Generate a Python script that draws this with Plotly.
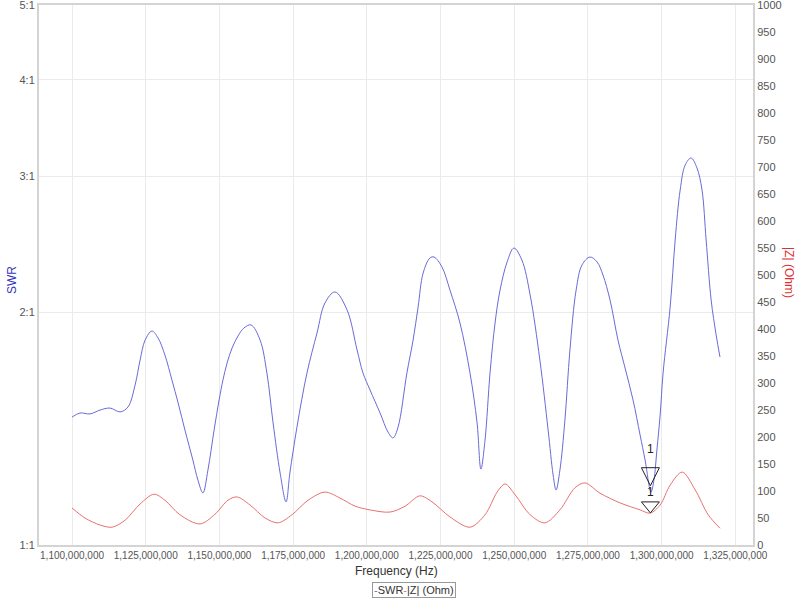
import numpy as np
import plotly.graph_objects as go

# ---------------- data ----------------
swr_freq_mhz = [1100.0, 1102.7, 1106.1, 1109.5, 1112.9, 1116.3, 1119.0, 1121.4, 1123.1, 1124.8,
                1127.1, 1129.2, 1131.5, 1133.9, 1136.0, 1138.3, 1141.0, 1142.7, 1144.4, 1146.1,
                1148.2, 1149.9, 1151.2, 1152.6, 1154.3, 1156.3, 1158.3, 1160.7, 1163.8, 1166.1,
                1168.2, 1170.6, 1172.6, 1173.9, 1176.3, 1179.7, 1183.1, 1185.8, 1189.2, 1193.3,
                1196.7, 1198.7, 1201.1, 1204.5, 1207.2, 1208.9, 1210.6, 1213.6, 1215.7, 1217.4,
                1219.1, 1221.4, 1222.8, 1225.5, 1228.2, 1231.6, 1235.0, 1237.4, 1238.7, 1240.1,
                1241.8, 1243.5, 1245.2, 1247.6, 1249.9, 1252.6, 1255.4, 1258.7, 1261.5, 1263.2,
                1264.2, 1265.5, 1267.2, 1268.9, 1271.0, 1273.0, 1275.7, 1278.1, 1280.1, 1282.5,
                1285.2, 1287.6, 1290.3, 1292.7, 1294.4, 1296.4, 1297.4, 1298.4, 1299.5, 1300.5,
                1302.9, 1304.6, 1306.3, 1308.0, 1310.0, 1312.0, 1313.7, 1315.1, 1316.8, 1318.5,
                1319.8]
swr_values = [1.464, 1.482, 1.478, 1.495, 1.504, 1.487, 1.509, 1.611, 1.736, 1.842,
              1.892, 1.853, 1.762, 1.635, 1.527, 1.409, 1.288, 1.214, 1.168, 1.250,
              1.409, 1.541, 1.635, 1.720, 1.799, 1.864, 1.909, 1.927, 1.842, 1.670,
              1.439, 1.239, 1.137, 1.239, 1.421, 1.670, 1.881, 2.057, 2.126, 2.015,
              1.788, 1.670, 1.587, 1.482, 1.400, 1.376, 1.421, 1.670, 1.842, 2.033,
              2.249, 2.352, 2.359, 2.290, 2.138, 1.938, 1.670, 1.439, 1.254, 1.367,
              1.670, 1.938, 2.138, 2.325, 2.423, 2.338, 2.107, 1.736, 1.409, 1.232,
              1.178, 1.250, 1.451, 1.788, 2.138, 2.304, 2.359, 2.325, 2.236, 2.076,
              1.842, 1.695, 1.541, 1.388, 1.288, 1.171, 1.214, 1.327, 1.473, 1.670,
              2.033, 2.482, 2.881, 3.104, 3.169, 3.076, 2.881, 2.482, 2.076, 1.870,
              1.751]

z_freq_mhz = [1100.0, 1104.4, 1109.5, 1113.6, 1118.0, 1123.1, 1127.8, 1131.5, 1136.6, 1143.4,
              1148.5, 1152.9, 1156.0, 1160.4, 1165.5, 1169.9, 1174.6, 1180.1, 1185.8, 1190.9,
              1196.0, 1201.1, 1207.9, 1213.0, 1218.0, 1222.1, 1228.2, 1235.0, 1240.1, 1244.2,
              1246.9, 1250.3, 1255.4, 1260.4, 1265.5, 1270.6, 1274.0, 1279.1, 1285.9, 1292.7,
              1296.1, 1299.5, 1302.9, 1307.0, 1311.4, 1315.8, 1319.8]
z_values = [68.5, 50, 37, 33, 46, 76, 94, 83, 56, 39,
            57, 83, 89, 74, 50, 41, 56, 83, 98, 87,
            72, 65, 61, 72, 91, 80, 52, 33, 56, 98,
            113, 93, 56, 41, 65, 106, 115, 96, 78, 65,
            59, 74, 111, 135, 102, 56, 31]

marker_freq_mhz = 1296.2
marker_label = "1"

x_tick_values = [1100e6 + 25e6 * i for i in range(10)]
swr_tick_values = [1, 2, 3, 4, 5]
swr_tick_text = ["1:1", "2:1", "3:1", "4:1", "5:1"]

# ---------------- figure ----------------
swr_freq = np.array(swr_freq_mhz) * 1e6
z_freq = np.array(z_freq_mhz) * 1e6
marker_freq = marker_freq_mhz * 1e6
marker_swr = float(np.interp(marker_freq, swr_freq, swr_values))
marker_z = float(np.interp(marker_freq, z_freq, z_values))

BLUE = "#6a6ad8"
RED = "#e87070"
FONT = "Liberation Sans, Arial, sans-serif"

fig = go.Figure()
fig.add_trace(go.Scatter(x=swr_freq, y=swr_values, mode="lines", name="SWR",
                         line=dict(color=BLUE, width=1, shape="spline", smoothing=1.0),
                         yaxis="y"))
fig.add_trace(go.Scatter(x=z_freq, y=z_values, mode="lines", name="|Z| (Ohm)",
                         line=dict(color=RED, width=1, shape="spline", smoothing=0.9),
                         yaxis="y2"))

grid = "#ebebeb"
border = "#d4d4d4"
fig.update_layout(
    width=800, height=600,
    margin=dict(l=39, r=47, t=5, b=55),
    paper_bgcolor="white", plot_bgcolor="white",
    showlegend=False,
    font=dict(family=FONT, size=11, color="#555555"),
    xaxis=dict(range=[1088.8e6, 1331.0e6], tickvals=x_tick_values, tickformat=",d",
               showgrid=True, gridcolor=grid, gridwidth=1, zeroline=False,
               showline=True, linecolor=border, linewidth=2, mirror=True,
               ticks="", automargin=False, ticklabeloverflow="allow",
               tickfont=dict(size=10, color="#555555")),
    yaxis=dict(type="log", range=[0, np.log10(5)], tickvals=swr_tick_values,
               ticktext=swr_tick_text, showgrid=True, gridcolor=grid, zeroline=False,
               showline=True, linecolor=border, linewidth=2, mirror=True, ticks="",
               automargin=False, ticklabeloverflow="allow",
               tickfont=dict(size=11, color="#555555")),
    yaxis2=dict(overlaying="y", side="right", range=[0, 1000], dtick=50,
                showgrid=False, zeroline=False, showline=True, linecolor=border,
                linewidth=2, ticks="", automargin=False, ticklabeloverflow="allow",
                tickfont=dict(size=11, color="#555555")),
)

# marker triangles (pixel-sized, anchored at the marker data points)
fig.add_shape(type="path", xref="x", yref="y", xsizemode="pixel", ysizemode="pixel",
              xanchor=marker_freq, yanchor=marker_swr,
              path="M-9,21 L9,21 L0,3 Z", line=dict(color="#222222", width=1),
              fillcolor="rgba(0,0,0,0)")
fig.add_shape(type="path", xref="x", yref="y2", xsizemode="pixel", ysizemode="pixel",
              xanchor=marker_freq, yanchor=marker_z,
              path="M-9,11 L9,11 L0,0 Z", line=dict(color="#222222", width=1),
              fillcolor="rgba(0,0,0,0)")
fig.add_annotation(x=marker_freq, y=np.log10(marker_swr), xref="x", yref="y",
                   text=marker_label, showarrow=False, yshift=40,
                   font=dict(size=12, color="#222222"))
fig.add_annotation(x=marker_freq, y=marker_z, xref="x", yref="y2",
                   text=marker_label, showarrow=False, yshift=21,
                   font=dict(size=12, color="#222222"))

# axis titles
fig.add_annotation(text="SWR", x=0, y=0.5, xref="paper", yref="paper", xanchor="center",
                   yanchor="middle", xshift=-27, yshift=-5, showarrow=False, textangle=-90,
                   font=dict(size=12, color="#3434c0"))
fig.add_annotation(text="|Z| (Ohm)", x=1, y=0.5, xref="paper", yref="paper", xanchor="center",
                   yanchor="middle", xshift=36, yshift=3, showarrow=False, textangle=90,
                   font=dict(size=12, color="#e03030"))
fig.add_annotation(text="Frequency (Hz)", x=0.5, y=0, xref="paper", yref="paper",
                   yanchor="middle", yshift=-26, showarrow=False,
                   font=dict(size=12, color="#333333"))
# legend
fig.add_annotation(
    text=f"<span style='color:{BLUE}'>-</span>SWR<span style='color:{RED}'>-</span>|Z| (Ohm)",
    x=0.5, y=0, xref="paper", yref="paper", xshift=18, yanchor="middle", yshift=-45,
    showarrow=False, font=dict(size=11, color="#333333"), bordercolor="#999999",
    borderwidth=1, borderpad=1, bgcolor="white")

fig.write_html("out.html", config={"displayModeBar": False},
               post_script="document.body.style.margin='0';document.body.style.overflow='hidden';")
